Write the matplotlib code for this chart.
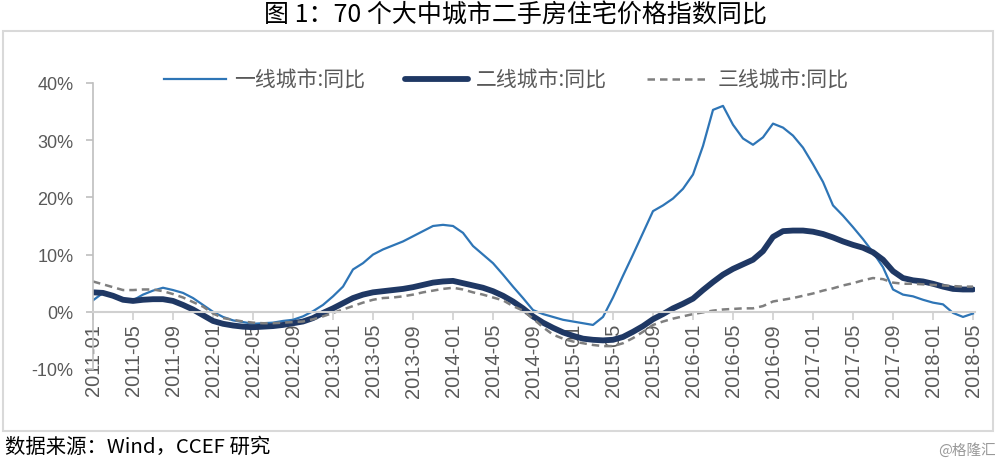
import numpy as np
import matplotlib
matplotlib.use("Agg")
import matplotlib.pyplot as plt
from matplotlib.patches import Rectangle

plt.rcParams['font.family'] = ['Noto Sans CJK SC', 'DejaVu Sans']

# monthly categories 2011-01 .. 2018-05
months = [f"{2011 + i // 12}-{i % 12 + 1:02d}" for i in range(89)]

tier1 = [2.0, 3.3, 2.7, 2.1, 2.0, 3.0, 3.7, 4.2, 3.8, 3.3, 2.4, 1.2,
         0.0, -0.9, -1.5, -1.8, -2.1, -2.0, -1.9, -1.6, -1.4, -0.8, 0.1, 1.2,
         2.7, 4.4, 7.4, 8.5, 10.0, 10.9, 11.6, 12.3, 13.2, 14.1, 15.0, 15.2,
         15.0, 13.8, 11.5, 10.0, 8.5, 6.5, 4.4, 2.4, 0.3, -0.4, -0.9, -1.4,
         -1.7, -2.0, -2.3, -0.9, 2.5, 6.3, 10.0, 13.8, 17.6, 18.6, 19.8, 21.5,
         24.0, 29.0, 35.3, 36.0, 32.7, 30.3, 29.2, 30.5, 32.9, 32.2, 30.8, 28.7,
         25.8, 22.7, 18.6, 16.8, 14.8, 12.7, 10.4, 7.8, 3.9, 3.0, 2.7, 2.1,
         1.6, 1.3, -0.2, -0.9, -0.3]

tier2 = [3.4, 3.3, 2.8, 2.1, 1.9, 2.1, 2.2, 2.2, 1.9, 1.2, 0.4, -0.6,
         -1.6, -2.1, -2.4, -2.6, -2.7, -2.6, -2.5, -2.3, -2.0, -1.7, -1.1, -0.2,
         0.6, 1.5, 2.4, 3.0, 3.4, 3.6, 3.8, 4.0, 4.3, 4.7, 5.1, 5.3,
         5.4, 5.0, 4.6, 4.2, 3.6, 2.8, 1.8, 0.6, -0.8, -1.9, -2.8, -3.6,
         -4.2, -4.7, -4.9, -5.0, -4.9, -4.4, -3.5, -2.5, -1.3, -0.4, 0.6, 1.4,
         2.3, 3.8, 5.2, 6.5, 7.5, 8.3, 9.1, 10.6, 13.1, 14.1, 14.2, 14.2,
         14.0, 13.6, 13.0, 12.3, 11.7, 11.2, 10.4, 9.1, 7.1, 5.9, 5.5, 5.3,
         4.9, 4.4, 4.0, 3.9, 3.9]

tier3 = [5.3, 4.8, 4.3, 3.8, 3.8, 3.9, 3.9, 3.6, 3.1, 2.5, 1.7, 0.9,
         -0.3, -1.1, -1.4, -1.7, -1.9, -2.0, -2.0, -1.9, -1.8, -1.7, -1.3, -0.8,
         -0.2, 0.4, 1.0, 1.6, 2.1, 2.4, 2.5, 2.7, 3.0, 3.4, 3.7, 4.0,
         4.2, 3.9, 3.4, 3.0, 2.5, 2.0, 1.0, 0.2, -1.2, -2.7, -4.0, -4.7,
         -5.2, -5.5, -5.8, -6.0, -6.0, -5.5, -4.6, -3.5, -2.3, -1.7, -1.2, -0.8,
         -0.4, -0.1, 0.2, 0.4, 0.5, 0.6, 0.6, 1.0, 1.8, 2.1, 2.4, 2.8,
         3.2, 3.7, 4.1, 4.6, 5.0, 5.5, 5.9, 5.7, 5.1, 4.9, 4.9, 4.8,
         4.7, 4.6, 4.5, 4.4, 4.4]

series_names = ['一线城市:同比', '二线城市:同比', '三线城市:同比']
yticks = [-10, 0, 10, 20, 30, 40]

x = np.arange(len(months))
grey_txt = '#595959'
axis_c = '#BFBFBF'

fig = plt.figure(figsize=(10, 4.6), dpi=100)
ax = fig.add_axes([0.093, 0.1957, 0.882, 0.6217])

ax.plot(x, tier1, color='#2E75B6', lw=1.6, label=series_names[0])
ax.plot(x, tier2, color='#1F3864', lw=4.2, solid_capstyle='round', label=series_names[1])
ax.plot(x, tier3, color='#7F7F7F', lw=1.8, dashes=(3, 2), label=series_names[2])

ax.set_xlim(0, 88.2)
ax.set_ylim(-10, 40)

for s in ['top', 'right']:
    ax.spines[s].set_visible(False)
ax.spines['bottom'].set_position(('data', 0))
ax.spines['bottom'].set_color('#D0D0D0')
ax.spines['bottom'].set_linewidth(1.5)
ax.spines['left'].set_color(axis_c)
ax.spines['left'].set_linewidth(1.2)

ax.set_yticks(yticks)
ax.set_yticklabels([f'{v}%' for v in yticks], fontfamily='Liberation Sans', fontsize=13, color=grey_txt)
ax.tick_params(axis='y', length=5, width=1.2, color=axis_c, pad=9)

ax.set_xticks(x[::4])
ax.set_xticklabels(months[::4], rotation=90, fontfamily='Liberation Sans', fontsize=14.5, color=grey_txt)
ax.tick_params(axis='x', length=6, width=1.2, color='#D0D0D0', pad=2)

fig.legend(loc='center', bbox_to_anchor=(0.506, 0.824), ncol=3, frameon=False,
           fontsize=15, labelcolor=grey_txt, handlelength=3.0, handletextpad=0.4,
           columnspacing=1.9)

fig.text(0.515, 0.966, '图 1：70 个大中城市二手房住宅价格指数同比', ha='center', va='center',
         fontsize=18, color='black')
fig.text(0.005, 0.028, '数据来源：Wind，CCEF 研究', ha='left', va='center',
         fontsize=14.7, color='black')
fig.text(0.996, 0.02, '@格隆汇', ha='right', va='center', fontsize=10.5, color='#999999')

fig.patches.append(Rectangle((0.003, 0.061), 0.99, 0.8696, transform=fig.transFigure,
                             fill=False, edgecolor='#D9D9D9', lw=1.5))

fig.savefig('out.png', dpi=100)
